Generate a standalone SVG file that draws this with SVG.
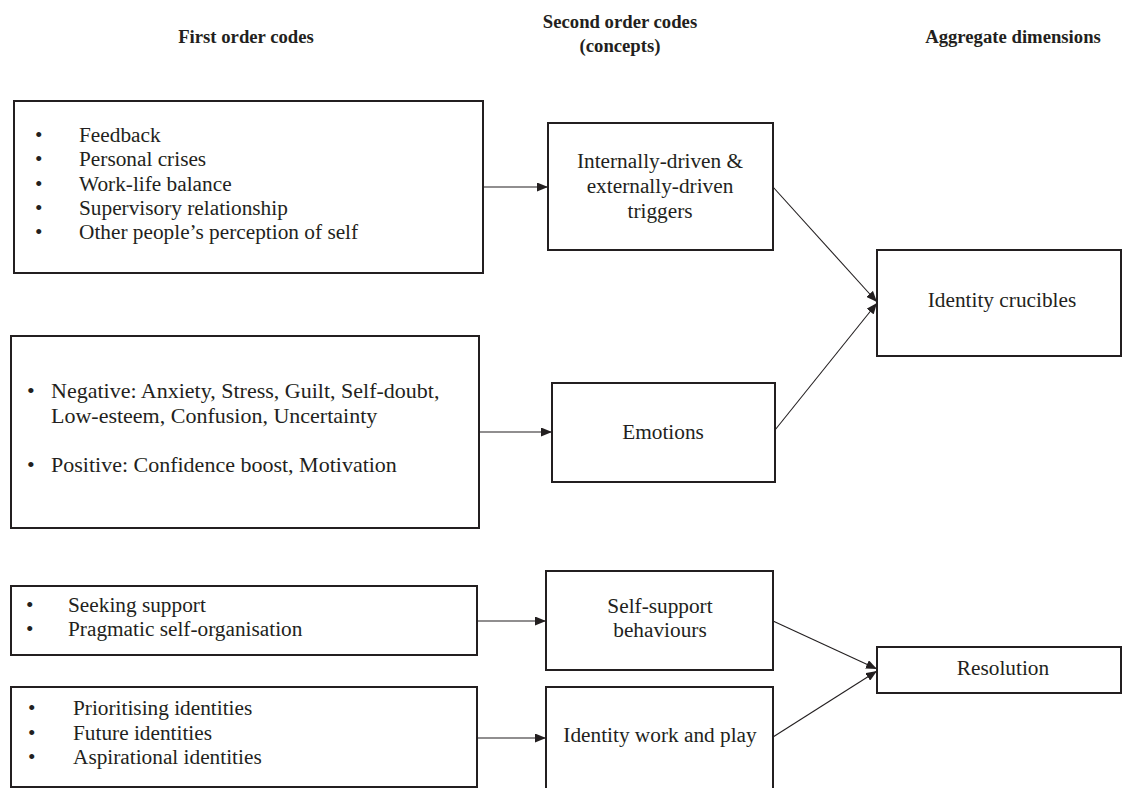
<svg xmlns="http://www.w3.org/2000/svg" width="1122" height="788" viewBox="0 0 1122 788">
<style>
  .box { fill: #ffffff; stroke: #231f20; stroke-width: 2; }
  .t { font-family: "Liberation Serif", "Times New Roman", serif; font-size: 21.3px; fill: #231f20; }
  .t22 { font-size: 22px; }
  .c { text-anchor: middle; }
  .h { font-family: "Liberation Serif", "Times New Roman", serif; font-size: 18.7px; font-weight: bold; fill: #231f20; text-anchor: middle; }
  .conn { stroke: #231f20; stroke-width: 1.1; fill: none; marker-end: url(#arrow); }
</style>
<defs>
  <marker id="arrow" markerUnits="userSpaceOnUse" markerWidth="11" markerHeight="9" refX="11" refY="4.5" orient="auto">
    <path d="M0,0 L11,4.5 L0,9 z" fill="#231f20"/>
  </marker>
</defs>
<rect width="1122" height="788" fill="#ffffff"/>

<g id="headers">
  <text class="h" x="246" y="43">First order codes</text>
  <text class="h" x="620" y="28">Second order codes</text>
  <text class="h" x="620" y="52">(concepts)</text>
  <text class="h" x="1013" y="43">Aggregate dimensions</text>
</g>

<g id="node-triggers-codes">
  <rect class="box" x="14" y="101" width="469" height="172"/>
  <text class="t" x="35" y="142">•</text><text class="t" x="79" y="142">Feedback</text>
  <text class="t" x="35" y="166.3">•</text><text class="t" x="79" y="166.3">Personal crises</text>
  <text class="t" x="35" y="190.6">•</text><text class="t" x="79" y="190.6">Work-life balance</text>
  <text class="t" x="35" y="214.9">•</text><text class="t" x="79" y="214.9">Supervisory relationship</text>
  <text class="t" x="35" y="239.2">•</text><text class="t" x="79" y="239.2">Other people’s perception of self</text>
</g>

<g id="node-triggers">
  <rect class="box" x="548" y="123" width="225" height="127"/>
  <text class="t c" x="660" y="168">Internally-driven &amp;</text>
  <text class="t c" x="660" y="193">externally-driven</text>
  <text class="t c" x="660" y="218">triggers</text>
</g>

<g id="node-emotion-codes">
  <rect class="box" x="11" y="336" width="468" height="192"/>
  <text class="t t22" x="27" y="398">•</text><text class="t t22" x="51" y="398">Negative: Anxiety, Stress, Guilt, Self-doubt,</text>
  <text class="t t22" x="51" y="423">Low-esteem, Confusion, Uncertainty</text>
  <text class="t t22" x="27" y="472">•</text><text class="t t22" x="51" y="472">Positive: Confidence boost, Motivation</text>
</g>

<g id="node-emotions">
  <rect class="box" x="552" y="383" width="223" height="99"/>
  <text class="t c" x="663" y="439">Emotions</text>
</g>

<g id="node-crucibles">
  <rect class="box" x="877" y="250" width="244" height="106"/>
  <text class="t c" x="1002" y="307">Identity crucibles</text>
</g>

<g id="node-support-codes">
  <rect class="box" x="11" y="586" width="466" height="69"/>
  <text class="t" x="26" y="612">•</text><text class="t" x="68" y="612">Seeking support</text>
  <text class="t" x="26" y="636">•</text><text class="t" x="68" y="636">Pragmatic self-organisation</text>
</g>

<g id="node-support">
  <rect class="box" x="546" y="571" width="227" height="99"/>
  <text class="t c" x="660" y="613">Self-support</text>
  <text class="t c" x="660" y="637">behaviours</text>
</g>

<g id="node-identity-codes">
  <rect class="box" x="11" y="687" width="466" height="100"/>
  <text class="t" x="28" y="715">•</text><text class="t" x="73" y="715">Prioritising identities</text>
  <text class="t" x="28" y="740">•</text><text class="t" x="73" y="740">Future identities</text>
  <text class="t" x="28" y="764">•</text><text class="t" x="73" y="764">Aspirational identities</text>
</g>

<g id="node-identity-work">
  <rect class="box" x="546" y="687" width="227" height="110"/>
  <text class="t c" x="660" y="742">Identity work and play</text>
</g>

<g id="node-resolution">
  <rect class="box" x="877" y="647" width="244" height="46"/>
  <text class="t c" x="1003" y="675">Resolution</text>
</g>

<g id="connectors">
  <line class="conn" x1="483" y1="187" x2="548" y2="187"/>
  <line class="conn" x1="479" y1="432" x2="552" y2="432"/>
  <line class="conn" x1="477" y1="621" x2="546" y2="621"/>
  <line class="conn" x1="477" y1="738" x2="546" y2="738"/>
  <line class="conn" x1="773" y1="187" x2="877" y2="302"/>
  <line class="conn" x1="775" y1="430" x2="877" y2="303"/>
  <line class="conn" x1="773" y1="621" x2="877" y2="669"/>
  <line class="conn" x1="773" y1="737" x2="877" y2="671"/>
</g>
</svg>
